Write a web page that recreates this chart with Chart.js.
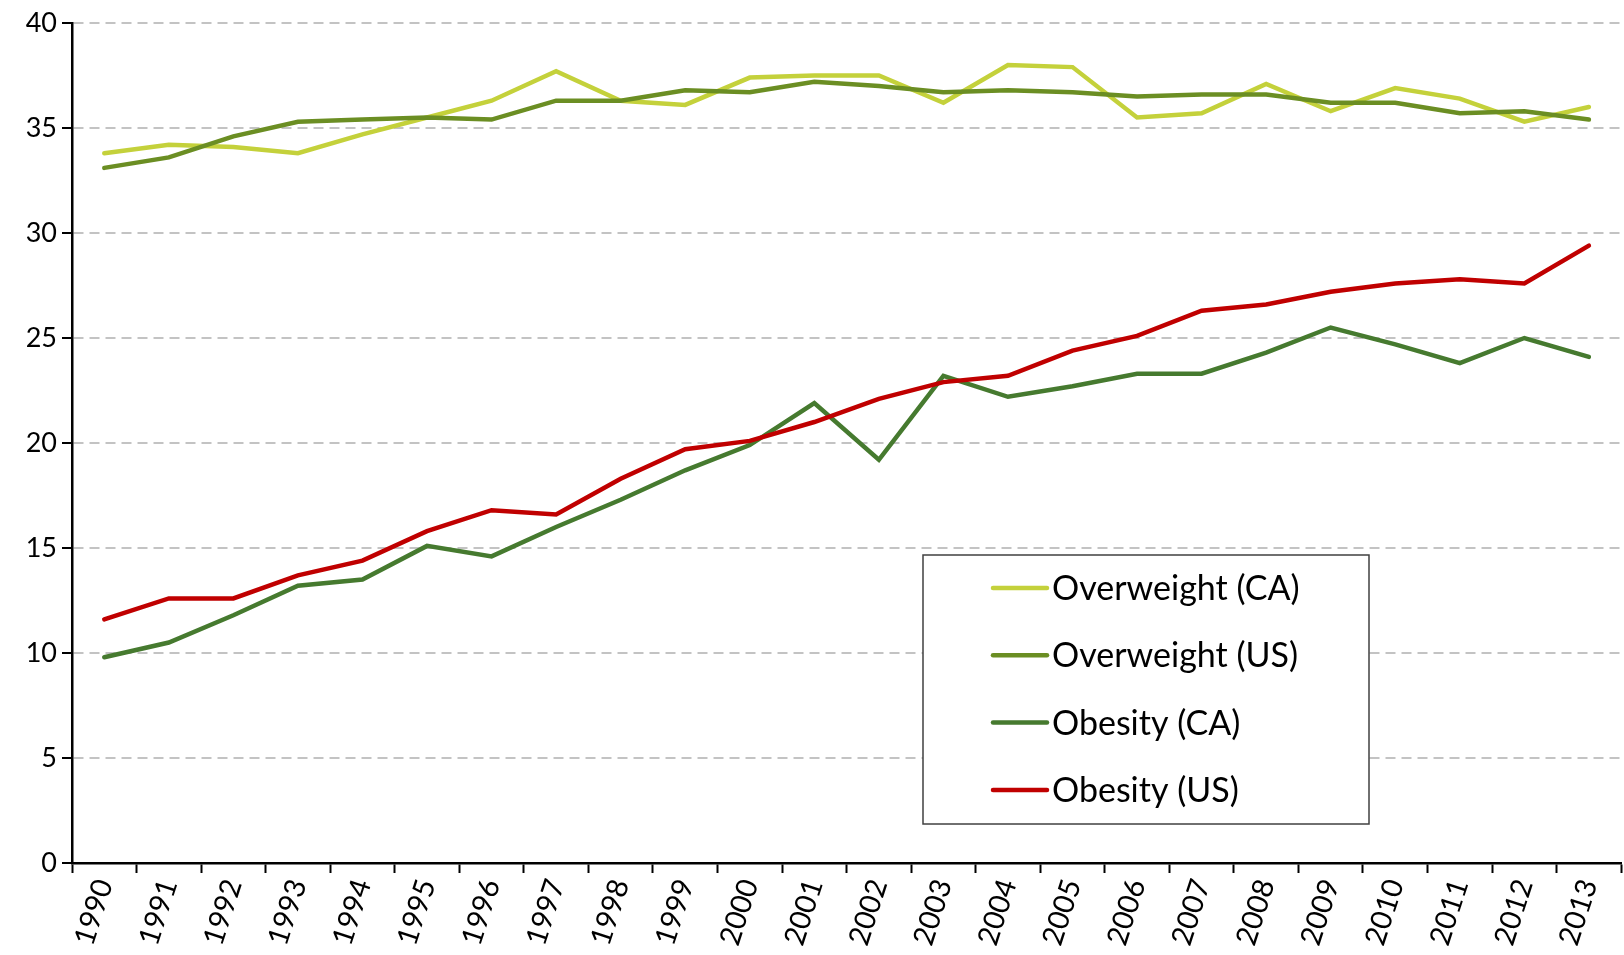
<!DOCTYPE html>
<html>
<head>
<meta charset="utf-8">
<script src="https://cdn.jsdelivr.net/npm/chart.js@4.4.1/dist/chart.umd.min.js"></script>
<style>
  html, body { margin: 0; padding: 0; background: #fff; }
  #wrap { width: 1624px; height: 955px; }
</style>
</head>
<body>
<div id="wrap"><canvas id="chartObesity" width="1624" height="955"></canvas></div>
<script>
const years = ['1990', '1991', '1992', '1993', '1994', '1995', '1996', '1997', '1998', '1999', '2000', '2001',
               '2002', '2003', '2004', '2005', '2006', '2007', '2008', '2009', '2010', '2011', '2012', '2013'];

const overweightCA = [33.8, 34.2, 34.1, 33.8, 34.7, 35.5, 36.3, 37.7, 36.3, 36.1, 37.4, 37.5,
                      37.5, 36.2, 38.0, 37.9, 35.5, 35.7, 37.1, 35.8, 36.9, 36.4, 35.3, 36.0];
const overweightUS = [33.1, 33.6, 34.6, 35.3, 35.4, 35.5, 35.4, 36.3, 36.3, 36.8, 36.7, 37.2,
                      37.0, 36.7, 36.8, 36.7, 36.5, 36.6, 36.6, 36.2, 36.2, 35.7, 35.8, 35.4];
const obesityCA = [9.8, 10.5, 11.8, 13.2, 13.5, 15.1, 14.6, 16.0, 17.3, 18.7, 19.9, 21.9,
                   19.2, 23.2, 22.2, 22.7, 23.3, 23.3, 24.3, 25.5, 24.7, 23.8, 25.0, 24.1];
const obesityUS = [11.6, 12.6, 12.6, 13.7, 14.4, 15.8, 16.8, 16.6, 18.3, 19.7, 20.1, 21.0,
                   22.1, 22.9, 23.2, 24.4, 25.1, 26.3, 26.6, 27.2, 27.6, 27.8, 27.6, 29.4];

const yTicks = [0, 5, 10, 15, 20, 25, 30, 35, 40];

const FONT = 'Lato, Carlito, sans-serif';

// legend in a framed box inside the plot, like the spreadsheet original
const boxLegend = {
    id: 'boxLegend',
    afterDraw(chart) {
        const c = chart.ctx;
        const x = 923, y = 555, w = 446, h = 269;
        c.save();
        c.fillStyle = '#fff';
        c.fillRect(x, y, w, h);
        c.strokeStyle = '#404040';
        c.lineWidth = 1.5;
        c.strokeRect(x, y, w, h);
        c.font = '34px ' + FONT;
        c.textBaseline = 'middle';
        chart.data.datasets.forEach((ds, i) => {
            const ly = y + 33 + i * 67.3;
            c.strokeStyle = ds.borderColor;
            c.lineWidth = 4.5;
            c.lineCap = 'round';
            c.beginPath();
            c.moveTo(x + 70, ly);
            c.lineTo(x + 124, ly);
            c.stroke();
            c.fillStyle = '#000';
            c.fillText(ds.label, x + 129, ly + 1);
        });
        c.restore();
    }
};

const ctx = document.getElementById('chartObesity');

new Chart(ctx, {
    type: 'line',
    data: {
        labels: years,
        datasets: [
            { label: 'Overweight (CA)', data: overweightCA, borderColor: '#c4d13b', order: 4 },
            { label: 'Overweight (US)', data: overweightUS, borderColor: '#6b8e23', order: 3 },
            { label: 'Obesity (CA)', data: obesityCA, borderColor: '#467a2f', order: 2 },
            { label: 'Obesity (US)', data: obesityUS, borderColor: '#c00000', order: 1 }
        ]
    },
    plugins: [boxLegend],
    options: {
        responsive: false,
        animation: false,
        devicePixelRatio: 1,
        layout: { padding: { top: 23, right: 0, left: 0, bottom: 0 } },
        elements: {
            line: { borderWidth: 4.5, tension: 0, borderCapStyle: 'round', fill: false },
            point: { radius: 0, hoverRadius: 0 }
        },
        plugins: {
            legend: { display: false },
            tooltip: { enabled: false }
        },
        scales: {
            x: {
                offset: true,
                grid: {
                    offset: true,
                    drawOnChartArea: false,
                    tickLength: 10,
                    tickColor: '#000',
                    tickWidth: 2
                },
                border: { color: '#000', width: 2.5 },
                ticks: {
                    color: '#000',
                    font: { family: FONT, size: 29 },
                    minRotation: 72,
                    maxRotation: 72,
                    autoSkip: false,
                    padding: 2
                },
                afterFit: s => { s.height = 92; }
            },
            y: {
                min: 0,
                max: 40,
                afterBuildTicks: s => { s.ticks = yTicks.map(v => ({ value: v })); },
                grid: {
                    color: c => (c.tick && c.tick.value === 0) ? 'rgba(0,0,0,0)' : '#c3c3c3',
                    lineWidth: 2,
                    tickLength: 10,
                    tickColor: '#000',
                    tickWidth: 2
                },
                border: { color: '#000', width: 2.5, dash: [10, 6] },
                ticks: {
                    color: '#000',
                    font: { family: FONT, size: 27 },
                    padding: 5
                },
                afterFit: s => { s.width = 72; }
            }
        }
    }
});
</script>
</body>
</html>
